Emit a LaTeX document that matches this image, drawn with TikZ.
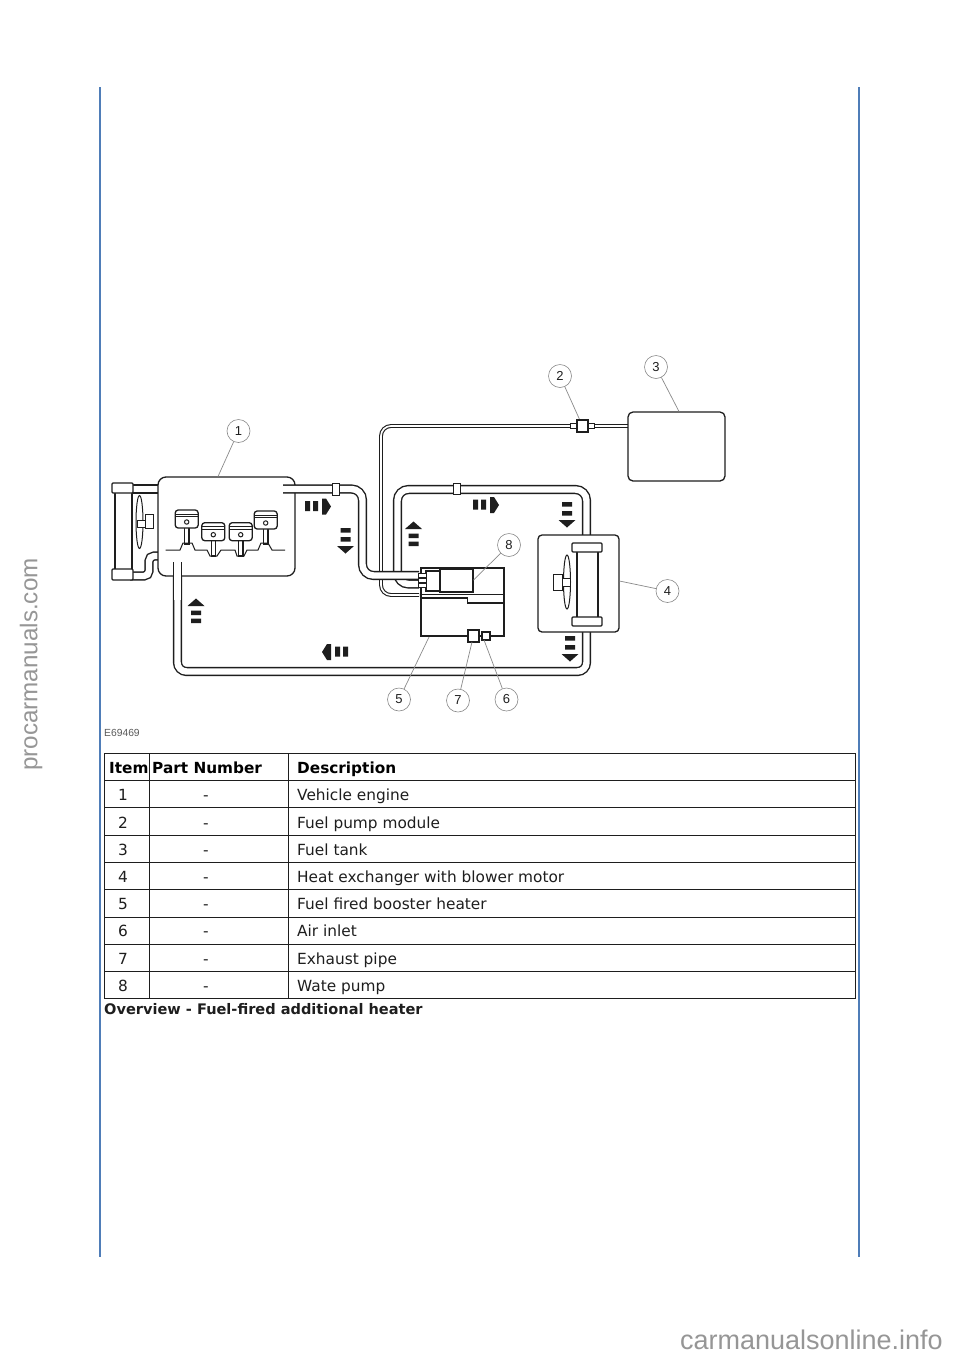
\documentclass[tikz,border=0pt]{standalone}
\usepackage{fontspec}
\setmainfont{DejaVu Sans}
\newfontfamily\libsans{Liberation Sans}
\definecolor{rule}{HTML}{4F7DB8}
\definecolor{mark}{HTML}{969696}
\definecolor{lead}{HTML}{8A8A8A}
\definecolor{ink}{HTML}{1E1E1E}
\tikzset{
  x=1pt,y=-1pt,
  pipe/.style={draw=ink,line width=1.4pt,double=white,double distance=6.4pt,rounded corners=11pt},
  fuelline/.style={draw=ink,line width=1.1pt,double=white,double distance=1.7pt,rounded corners=10pt},
  part/.style={draw=ink,line width=1.3pt,fill=white},
  partb/.style={draw=ink,line width=1.4pt,fill=white},
  callout/.style={circle,draw=lead,line width=.6pt,fill=white,minimum size=23pt,inner sep=0pt,font=\libsans\fontsize{13}{13}\selectfont,text=ink},
  leader/.style={draw=lead,line width=.7pt},
  grid/.style={draw=ink,line width=1pt},
  cell/.style={inner sep=0pt,anchor=base,font=\fontsize{15.35}{17}\selectfont,text=ink},
  celll/.style={cell,anchor=base west},
  head/.style={inner sep=0pt,anchor=base west,font=\bfseries\fontsize{15.3}{17}\selectfont,text=black}
}
\newcommand{\flowR}[2]{\fill[ink] (#1,#2-5.5) rectangle ++(5,10) (#1+8,#2-5.5) rectangle ++(5,10) (#1+17,#2-8) -- ++(4,0) -- ++(5,8) -- ++(-5,8) -- ++(-4,0) -- cycle;}
\newcommand{\flowL}[2]{\fill[ink] (#1,#2-5.5) rectangle ++(-5,10) (#1-8,#2-5.5) rectangle ++(-5,10) (#1-17,#2-8) -- ++(-4,0) -- ++(-5,8) -- ++(5,8) -- ++(4,0) -- cycle;}
\newcommand{\flowD}[2]{\fill[ink] (#1-5,#2) rectangle ++(10,4.5) (#1-5,#2+9) rectangle ++(10,4.5) (#1-8.5,#2+18) -- ++(17,0) -- ++(-8.5,7.5) -- cycle;}
\newcommand{\flowU}[2]{\fill[ink] (#1-5,#2) rectangle ++(10,-4.5) (#1-5,#2-8) rectangle ++(10,-4.5) (#1-8.5,#2-17) -- ++(17,0) -- ++(-8.5,-7.5) -- cycle;}
\newcommand{\piston}[3]{% cx, top, rod end
  \draw[part,line width=1.2pt] (#1-2.2,#2+15) rectangle (#1+2.2,#3);
  \draw[part,rounded corners=3pt] (#1-11.5,#2) rectangle (#1+11.5,#2+18);
  \draw[ink,line width=.9pt] (#1-11.5,#2+4) -- (#1+11.5,#2+4) (#1-11.5,#2+6.5) -- (#1+11.5,#2+6.5);
  \draw[ink,line width=1pt] (#1,#2+12) circle (2.2);}
\begin{document}
\begin{tikzpicture}
\useasboundingbox (0,0) rectangle (960,1358);
\fill[white] (0,0) rectangle (960,1358);
% page rules
\draw[rule,line width=1.3pt] (100,87) -- (100,1257) (859.1,87) -- (859.1,1257);
% watermarks
\node[rotate=90,inner sep=0pt,text=mark,font=\libsans\fontsize{24.2}{26}\selectfont] (wmA) at (31,664.5) {procarmanuals.com};
\node[inner sep=0pt,text=mark,anchor=base east,font=\libsans\fontsize{27}{28}\selectfont] (wmB) at (943,1349) {carmanualsonline.info};

% fuel line
\draw[fuelline] (577,426) -- (381,426) -- (381,595) -- (419,595);
\draw[fuelline] (628,426) -- (588,426);
% coolant circuit right
\draw[pipe] (586.5,545) -- (586.5,489.5) -- (397.5,489.5) -- (397.5,584) -- (419,584);
\draw[pipe,rounded corners=9pt] (586.5,620) -- (586.5,671.5) -- (177.5,671.5) -- (177.5,562);
% radiator pipes
\draw[pipe,rounded corners=5pt] (130,576) -- (149,576) -- (149,556) -- (162,556);
\draw[pipe] (130,489) -- (162,489);
% radiator
\draw[part] (115,490) rectangle (132,572);
\draw[part,rounded corners=1pt] (112,483) rectangle (133,493);
\draw[part,rounded corners=1pt] (112,569) rectangle (133,580);
% engine
\node[part,rounded corners=8pt,minimum width=137pt,minimum height=99pt,inner sep=0pt] (engine) at (226.5,526.5) {};
\draw[part,line width=1pt] (139.5,522) ellipse (3.5 and 26.5);
\draw[part,line width=1pt] (145,514) rectangle (153.5,528);
\draw[part,line width=1pt] (137,520) rectangle (145,527);
% engine pipe stubs over the box
\draw[pipe] (177.5,600) -- (177.5,562);
\draw[pipe] (283,489) -- (362.5,489) -- (362.5,575.5) -- (419,575.5);
% couplings
\draw[part,line width=1pt] (332,483) rectangle (339,495);
\draw[part,line width=1pt] (453,483) rectangle (460,494);
% pistons
\piston{186.7}{510}{544}
\piston{213.3}{522.7}{556}
\piston{240.7}{522.7}{556}
\piston{265.7}{511}{544}
\draw[ink,line width=1pt] (165.7,550) -- (180,550) -- (183,543) -- (192,543) -- (195,550) -- (207,550) -- (210,556) -- (217,556) -- (221,550) -- (235,550) -- (237,556) -- (244,556) -- (247,550) -- (258,550) -- (261,543) -- (268,543) -- (272,550) -- (285,550);
% fuel pump
\draw[part,line width=1pt] (570,423.5) rectangle (577,428.5);
\draw[part,line width=1pt] (588,423.5) rectangle (594,428.5);
\node[partb,minimum width=11pt,minimum height=12pt,inner sep=0pt] (pump) at (582.5,426) {};
% tank
\node[part,rounded corners=5pt,minimum width=97pt,minimum height=69pt,inner sep=0pt] (tank) at (676.5,446.5) {};
% heat exchanger
\node[part,rounded corners=4pt,minimum width=81pt,minimum height=97pt,inner sep=0pt] (exch) at (578.5,583.5) {};
\draw[part] (577,548) rectangle (598,620);
\draw[part,fill=white,rounded corners=1pt] (572,543) rectangle (602,552);
\draw[part,fill=white,rounded corners=1pt] (572,617) rectangle (602,626);
\draw[part,line width=1pt] (567,582) ellipse (3.5 and 27);
\draw[part,line width=1pt] (553,574) rectangle (562,590);
\draw[part,line width=1pt] (562,578.5) rectangle (570.5,586);
% heater
\node[partb,minimum width=83pt,minimum height=68pt,inner sep=0pt] (heater) at (462.5,602) {};
\draw[ink,line width=1.3pt] (421,594.5) -- (504,594.5);
\draw[ink,line width=1.3pt] (421,598) -- (467.5,598) -- (467.5,603) -- (504,603);
\node[partb,minimum width=33pt,minimum height=23pt,inner sep=0pt] (wpump) at (456.5,580.5) {};
\node[part,minimum width=14pt,minimum height=20pt,inner sep=0pt] (wpumpb) at (433,581) {};
\draw[part,line width=1pt] (418,573) rectangle (426,577.5);
\draw[part,line width=1pt] (418,578.5) rectangle (426,582.5);
\draw[part,line width=1pt] (418,583.5) rectangle (426,587.5);
\node[partb,minimum width=11pt,minimum height=12pt,inner sep=0pt] (exhaust) at (473.5,636) {};
\node[part,minimum width=8pt,minimum height=8pt,inner sep=0pt] (inlet) at (486,636) {};
% flow arrows
\flowR{305}{506.5}
\flowD{345.5}{528}
\flowU{196}{623}
\flowL{348}{652}
\flowU{413.5}{546}
\flowR{473}{505}
\flowD{567}{502}
\flowD{570}{636}
% callouts
\node[callout] (c1) at (238.5,431) {1};
\node[callout] (c2) at (560,376) {2};
\node[callout] (c3) at (656,367) {3};
\node[callout] (c4) at (667.5,591) {4};
\node[callout] (c5) at (399,699.5) {5};
\node[callout] (c6) at (506.5,699.5) {6};
\node[callout] (c7) at (458,700.5) {7};
\node[callout] (c8) at (509,545) {8};
\coordinate (t1) at (218,476.5);
\coordinate (t3) at (679,411.5);
\coordinate (t4) at (619.5,581);
\coordinate (t5) at (429,637);
\coordinate (t7) at (472,642);
\coordinate (t6) at (484,640);
\coordinate (t8) at (473.5,580);
\draw[leader] (c1) -- (t1);
\draw[leader] (c2) -- (pump);
\draw[leader] (c3) -- (t3);
\draw[leader] (c4) -- (t4);
\draw[leader] (c5) -- (t5);
\draw[leader] (c7) -- (t7);
\draw[leader] (c6) -- (t6);
\draw[leader] (c8) -- (t8);
\node[partb,minimum width=11pt,minimum height=12pt,inner sep=0pt] at (pump) {};
% drawing number
\node[inner sep=0pt,anchor=base west,text=black!65,font=\libsans\fontsize{10.3}{11}\selectfont] (eno) at (104,736) {E69469};
% table
\draw[grid] (104,753) rectangle (855,998.5);
\draw[grid] (149,753) -- (149,998.5) (288.5,753) -- (288.5,998.5);
\draw[grid] (104,780.5) -- (855,780.5) (104,807.5) -- (855,807.5) (104,835) -- (855,835) (104,862) -- (855,862) (104,889.5) -- (855,889.5) (104,917) -- (855,917) (104,944) -- (855,944) (104,971.5) -- (855,971.5);
\node[head] (hA) at (109,773) {Item};
\node[head] (hB) at (152,773) {Part Number};
\node[head] (hC) at (297,773) {Description};
\foreach \n/\yy/\d in {1/800.5/Vehicle engine,2/828/Fuel pump module,3/855/Fuel tank,4/882/Heat exchanger with blower motor,5/909.5/Fuel fired booster heater,6/936.5/Air inlet,7/964/Exhaust pipe,8/991/Wate pump}{
  \node[cell] (i\n) at (123,\yy) {\n};
  \node[cell] (p\n) at (206,\yy) {-};
  \node[celll] (d\n) at (297,\yy) {\d};
}
\node[inner sep=0pt,anchor=base west,text=ink,font=\bfseries\fontsize{14.55}{16}\selectfont] (cap) at (104,1014) {Overview - Fuel-fired additional heater};
\end{tikzpicture}
\end{document}
